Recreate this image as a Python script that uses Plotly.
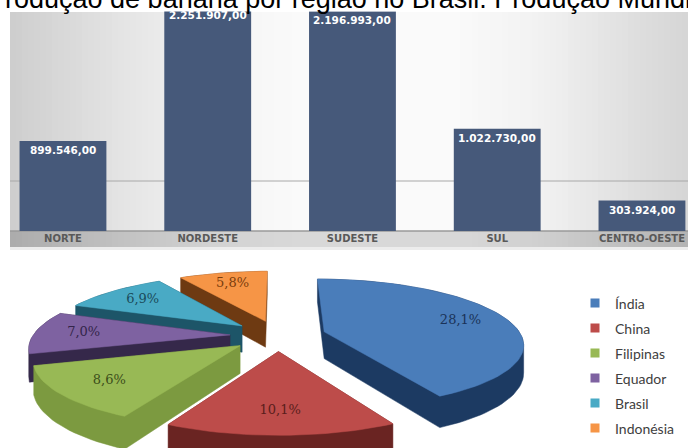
import numpy as np
import plotly.graph_objects as go

# Produção de banana por região (t)
regioes = ["NORTE", "NORDESTE", "SUDESTE", "SUL", "CENTRO-OESTE"]
producao = [899546.00, 2251907.00, 2196993.00, 1022730.00, 303924.00]

# Produção mundial de banana (% por país)
paises = ["Índia", "China", "Filipinas", "Equador", "Brasil", "Indonésia"]
participacao = [28.1, 10.1, 8.6, 7.0, 6.9, 5.8]

cores_topo = ["#4a7dba", "#bd4c4a", "#98b955", "#7e62a1", "#49aac5", "#f69546"]
cores_lado = ["#1c3a62", "#6a2422", "#7c9a40", "#35284a", "#1d5568", "#6e3a12"]
cores_texto = ["#1a3358", "#5a1e1c", "#3b4d1a", "#33254a", "#1b4a5a", "#7a3c0c"]

W, H = 688, 448


def fmt_br(v):
    s = f"{v:,.2f}"
    return s.replace(",", "X").replace(".", ",").replace("X", ".")


def fmt_pct(p):
    return f"{p:.1f}".replace(".", ",") + "%"


def py(pix):
    """pixel row (from top) -> paper y"""
    return (H - pix) / H


def px(pix):
    return pix / W


fig = go.Figure()

# ---------------- bar chart ----------------
bar_clip, bar_base = 12, 231       # visible band of the bar panel
bar_dom_top = 4                    # plot area top (hidden under the header strip)
PX_PER_UNIT = 100 / 1e6            # 100 px per million t
y_max = (bar_base - bar_dom_top) / PX_PER_UNIT

fig.add_trace(go.Bar(
    x=regioes, y=producao,
    marker=dict(color="#46597a", line=dict(width=0)),
    hoverinfo="skip", showlegend=False,
    xaxis="x", yaxis="y",
))

# value labels just inside the top of each bar
annotations = [
    dict(x=r, y=v, xref="x", yref="y", text=fmt_br(v), showarrow=False,
         xanchor="center", yanchor="top", yshift=-1,
         font=dict(family="DejaVu Sans", size=10.5, color="white", weight="bold"))
    for r, v in zip(regioes, producao)
]

shapes = []
# soft grey backdrop behind the bars (horizontal gradient)
gx = [10, 60, 130, 210, 290, 460, 540, 600, 650, 688]
gv = [206, 216, 230, 244, 250, 250, 242, 230, 220, 214]
edges = np.arange(10, 689, 6)
for a, b in zip(edges[:-1], edges[1:]):
    g = int(np.interp((a + b) / 2, gx, gv))
    shapes.append(dict(type="rect", xref="paper", yref="paper",
                       x0=px(a), x1=px(b + 0.6), y0=py(bar_base), y1=py(bar_clip),
                       fillcolor=f"rgb({g},{g},{g})", line=dict(width=0), layer="below"))
    gb = g - 34
    shapes.append(dict(type="rect", xref="paper", yref="paper",
                       x0=px(a), x1=px(b + 0.6), y0=py(247), y1=py(bar_base),
                       fillcolor=f"rgb({gb},{gb},{gb})", line=dict(width=0), layer="below"))
# faint shadow under the category band
shapes.append(dict(type="rect", xref="paper", yref="paper", x0=px(10), x1=1,
                   y0=py(250), y1=py(247), fillcolor="rgb(236,236,236)",
                   line=dict(width=0), layer="below"))
# reference line at 500 mil t
shapes.append(dict(type="line", xref="paper", yref="y", x0=px(10), x1=1,
                   y0=500000, y1=500000, line=dict(color="#a8a8a8", width=1), layer="below"))
# axis base line
shapes.append(dict(type="line", xref="paper", yref="paper", x0=px(10), x1=1,
                   y0=py(bar_base), y1=py(bar_base),
                   line=dict(color="#9a9a9a", width=1.5), layer="below"))
# white header strip over the top of the bar panel
shapes.append(dict(type="rect", xref="paper", yref="paper", x0=0, x1=1,
                   y0=py(bar_clip - 0.5), y1=1.01, fillcolor="white",
                   line=dict(width=0), layer="above"))

# ---------------- exploded 3D pie ----------------
T = 0.32       # vertical squash of the disc
D = 5.8        # perspective distance (in radii)
DEPTH = 0.137  # slab thickness (in radii)
PULL = 0.244   # explosion distance (in radii)
R_PIX = 197.0
CX, CY = 278.0, 335.5
pie_top = 255


def proj(X, Z, h):
    s = D / (D + Z)
    return X * s, (Z * T + h) * s


def convex_hull(points):
    pts = sorted(set(points))
    if len(pts) <= 2:
        return pts

    def cross(o, a, b):
        return (a[0] - o[0]) * (b[1] - o[1]) - (a[1] - o[1]) * (b[0] - o[0])

    lower, upper = [], []
    for p in pts:
        while len(lower) >= 2 and cross(lower[-2], lower[-1], p) <= 0:
            lower.pop()
        lower.append(p)
    for p in reversed(pts):
        while len(upper) >= 2 and cross(upper[-2], upper[-1], p) <= 0:
            upper.pop()
        upper.append(p)
    return lower[:-1] + upper[:-1]


vals = np.array(participacao, dtype=float)
frac = vals / vals.sum()
starts = 90 - 360 * np.concatenate([[0], np.cumsum(frac)[:-1]])
ends = starts - 360 * frac
mids = (starts + ends) / 2

slices = []
for i in range(len(paises)):
    phi = np.radians(mids[i])
    ax0, az0 = PULL * np.cos(phi), PULL * np.sin(phi)
    n = max(8, int(abs(starts[i] - ends[i]) / 2))
    th = np.radians(np.linspace(starts[i], ends[i], n))
    Xs = np.concatenate([[ax0], ax0 + np.cos(th)])
    Zs = np.concatenate([[az0], az0 + np.sin(th)])
    top = [proj(x, z, 0.0) for x, z in zip(Xs, Zs)]
    bot = [proj(x, z, -DEPTH) for x, z in zip(Xs, Zs)]
    side = convex_hull([(round(a, 6), round(b, 6)) for a, b in top + bot])
    lx, lz = ax0 + 0.75 * np.cos(phi), az0 + 0.75 * np.sin(phi)
    slices.append(dict(i=i, depth=np.sin(phi), top=top, side=side,
                       label=proj(lx, lz, 0.0)))

for sl in sorted(slices, key=lambda d: -d["depth"]):
    i = sl["i"]
    sx, sy = zip(*(sl["side"] + [sl["side"][0]]))
    fig.add_trace(go.Scatter(x=sx, y=sy, mode="lines", fill="toself",
                             fillcolor=cores_lado[i], line=dict(color=cores_lado[i], width=0.5),
                             hoverinfo="skip", showlegend=False, xaxis="x2", yaxis="y2"))
    tx, ty = zip(*(sl["top"] + [sl["top"][0]]))
    fig.add_trace(go.Scatter(x=tx, y=ty, mode="lines", fill="toself",
                             fillcolor=cores_topo[i], line=dict(color=cores_topo[i], width=0.5),
                             hoverinfo="skip", showlegend=False, xaxis="x2", yaxis="y2"))
    fig.add_trace(go.Scatter(x=[sl["label"][0]], y=[sl["label"][1]], mode="text",
                             text=[fmt_pct(participacao[i])], textposition="middle center",
                             textfont=dict(family="DejaVu Serif", size=13, color=cores_texto[i]),
                             hoverinfo="skip", showlegend=False, xaxis="x2", yaxis="y2"))

# legend entries
for i, nome in enumerate(paises):
    fig.add_trace(go.Scatter(x=[None], y=[None], mode="markers", name=nome,
                             legendgroup=nome, legendrank=i + 1,
                             marker=dict(symbol="square", size=9, color=cores_topo[i]),
                             xaxis="x2", yaxis="y2"))

annotations.append(dict(text="Produção de banana por região no Brasil. Produção Mundial",
                        xref="paper", yref="paper", x=px(-15), y=1 + 18 / H,
                        xanchor="left", yanchor="top", showarrow=False,
                        font=dict(family="Liberation Sans", size=27, color="black")))

fig.update_layout(
    width=W, height=H, margin=dict(l=0, r=0, t=0, b=0), autosize=False,
    paper_bgcolor="white", plot_bgcolor="rgba(0,0,0,0)",
    bargap=0.4, hovermode=False, shapes=shapes, annotations=annotations,
    xaxis=dict(domain=[0, 1], range=[-0.435, 4.318], anchor="y",
               showline=False, showgrid=False, zeroline=False, ticks="",
               tickfont=dict(family="DejaVu Sans", size=10, color="#595959", weight="bold"),
               automargin=False, fixedrange=True),
    yaxis=dict(domain=[py(bar_base), py(bar_dom_top)], range=[0, y_max], anchor="x",
               showline=False, zeroline=False, showticklabels=False, showgrid=False,
               automargin=False, fixedrange=True),
    xaxis2=dict(domain=[0, 1], anchor="y2", automargin=False,
                range=[(0 - CX) / R_PIX, (W - CX) / R_PIX], visible=False, fixedrange=True),
    yaxis2=dict(domain=[0, py(pie_top)], anchor="x2", automargin=False,
                range=[(CY - H) / R_PIX, (CY - pie_top) / R_PIX], visible=False, fixedrange=True),
    legend=dict(x=px(575), y=py(287.5), xanchor="left", yanchor="top",
                bgcolor="rgba(0,0,0,0)", traceorder="grouped", tracegroupgap=3.8,
                font=dict(family="Lato", size=14, color="#404040")),
)

fig.write_html("out.html")
